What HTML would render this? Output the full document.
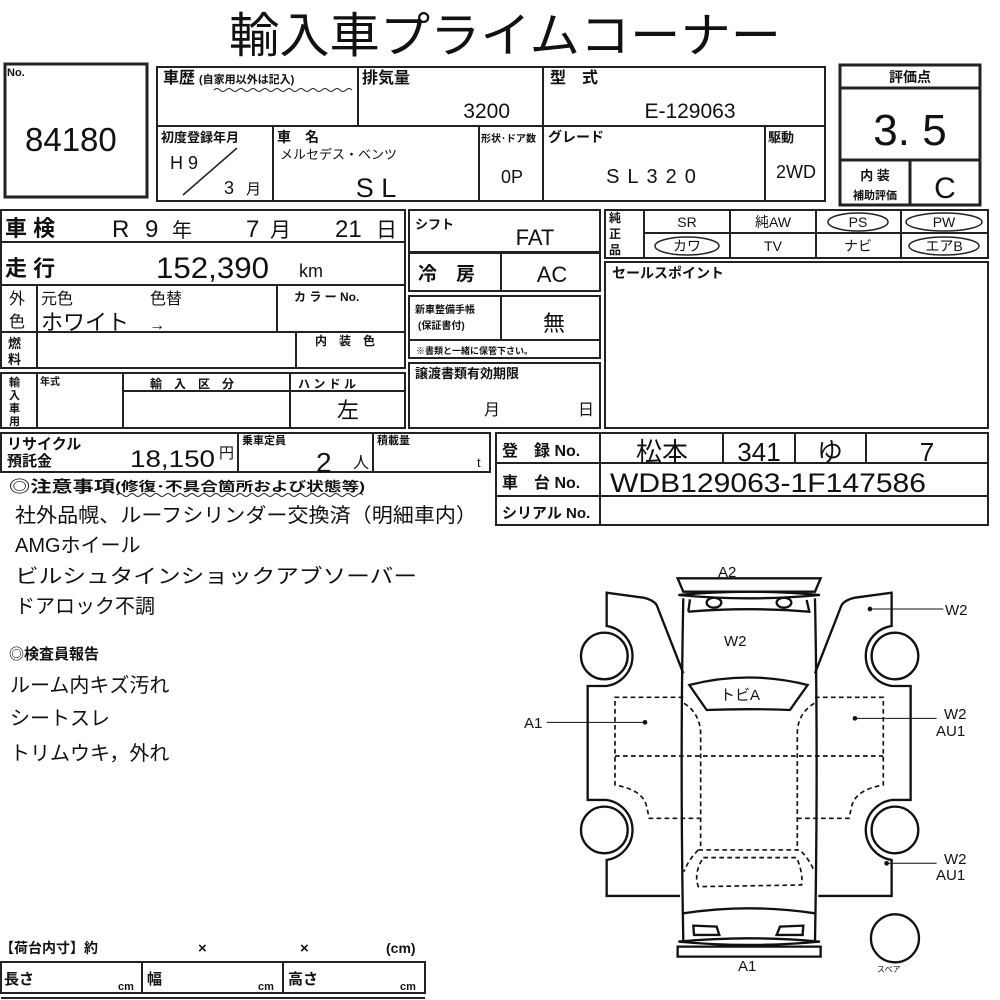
<!DOCTYPE html>
<html><head><meta charset="utf-8"><style>
html,body{margin:0;padding:0;background:#fff;}
svg{display:block;}
text{font-family:"Liberation Sans","Noto Sans CJK JP",sans-serif;fill:#111;}
.b{font-weight:bold;}
</style></head><body>
<svg width="1000" height="1000" viewBox="0 0 1000 1000" xmlns="http://www.w3.org/2000/svg">
<g fill="none" stroke="#222" stroke-width="2">
<rect x="5" y="64" width="142" height="133" stroke-width="3"/>
<rect x="157" y="67" width="668" height="134"/>
<line x1="157" y1="126" x2="825" y2="126"/>
<line x1="358" y1="67" x2="358" y2="126"/>
<line x1="543" y1="67" x2="543" y2="201"/>
<line x1="273" y1="126" x2="273" y2="201"/>
<line x1="479" y1="126" x2="479" y2="201"/>
<line x1="765" y1="126" x2="765" y2="201"/>
<line x1="183" y1="195" x2="237" y2="148" stroke-width="1.5"/>
<rect x="840" y="65" width="140" height="140" stroke-width="3"/>
<line x1="840" y1="88" x2="980" y2="88" stroke-width="3"/>
<line x1="840" y1="160" x2="980" y2="160" stroke-width="3"/>
<line x1="910" y1="160" x2="910" y2="205" stroke-width="3"/>
<rect x="1" y="210" width="404" height="158"/>
<line x1="1" y1="242" x2="405" y2="242"/>
<line x1="1" y1="285" x2="405" y2="285"/>
<line x1="1" y1="332" x2="405" y2="332"/>
<line x1="37" y1="285" x2="37" y2="368"/>
<line x1="277" y1="285" x2="277" y2="332"/>
<line x1="296" y1="332" x2="296" y2="368"/>
<rect x="1" y="373" width="404" height="55"/>
<line x1="37" y1="373" x2="37" y2="428"/>
<line x1="123" y1="373" x2="123" y2="428"/>
<line x1="290" y1="373" x2="290" y2="428"/>
<line x1="123" y1="391" x2="405" y2="391"/>
<rect x="409" y="210" width="191" height="42"/>
<rect x="409" y="253" width="191" height="38"/>
<line x1="501" y1="253" x2="501" y2="291"/>
<rect x="409" y="296" width="191" height="62"/>
<line x1="409" y1="340" x2="600" y2="340"/>
<line x1="501" y1="296" x2="501" y2="340"/>
<rect x="409" y="363" width="191" height="65"/>
<rect x="1" y="433" width="489" height="39"/>
<line x1="238" y1="433" x2="238" y2="472"/>
<line x1="373" y1="433" x2="373" y2="472"/>
<rect x="496" y="433" width="492" height="92"/>
<line x1="496" y1="463" x2="988" y2="463"/>
<line x1="496" y1="496" x2="988" y2="496"/>
<line x1="600" y1="433" x2="600" y2="525"/>
<line x1="723" y1="433" x2="723" y2="463"/>
<line x1="795" y1="433" x2="795" y2="463"/>
<line x1="866" y1="433" x2="866" y2="463"/>
<rect x="605" y="210" width="383" height="48"/>
<line x1="644" y1="233" x2="988" y2="233"/>
<line x1="644" y1="210" x2="644" y2="258"/>
<line x1="730" y1="210" x2="730" y2="258"/>
<line x1="816" y1="210" x2="816" y2="258"/>
<line x1="901" y1="210" x2="901" y2="258"/>
<ellipse cx="858" cy="222" rx="30" ry="9" stroke-width="1.5"/>
<ellipse cx="944" cy="222" rx="38" ry="9" stroke-width="1.5"/>
<ellipse cx="687" cy="246" rx="32" ry="9" stroke-width="1.5"/>
<ellipse cx="944" cy="246" rx="35" ry="9" stroke-width="1.5"/>
<rect x="605" y="262" width="383" height="166"/>
<rect x="1" y="962" width="424" height="31"/>
<line x1="142" y1="962" x2="142" y2="993"/>
<line x1="283" y1="962" x2="283" y2="993"/>
<line x1="1" y1="998" x2="425" y2="998"/>
<path d="M214 90 q3 -3 6 0 t6 0 t6 0 t6 0 t6 0 t6 0 t6 0 t6 0 t6 0 t6 0 t6 0 t6 0 t6 0 t6 0 t6 0 t6 0 t6 0 t6 0 t6 0 t6 0 t6 0 t6 0 t6 0" stroke-width="1"/>
<path d="M117 495 q3 -3 6 0 t6 0 t6 0 t6 0 t6 0 t6 0 t6 0 t6 0 t6 0 t6 0 t6 0 t6 0 t6 0 t6 0 t6 0 t6 0 t6 0 t6 0 t6 0 t6 0 t6 0 t6 0 t6 0 t6 0 t6 0 t6 0 t6 0 t6 0 t6 0 t6 0 t6 0 t6 0 t6 0 t6 0 t6 0 t6 0 t6 0 t6 0 t6 0 t6 0 t6 0" stroke-width="1"/>
</g>

<g transform="translate(510,560) scale(0.3333)" fill="none" stroke="#111" stroke-width="7">
<path d="M503 55 L932 55 L915 95 L520 95 Z"/>
<path d="M505 105 Q717 85 930 105 Q717 125 505 105"/>
<path d="M520 115 Q510 600 520 1145 M915 115 Q925 600 915 1145"/>
<path d="M535 155 Q717 140 898 155 L890 120 M535 155 L540 118"/>
<ellipse cx="612" cy="128" rx="22" ry="15"/>
<ellipse cx="822" cy="128" rx="22" ry="15"/>
<path d="M538 375 Q715 330 893 375 L840 450 Q715 445 590 450 Z"/>
<path d="M520 1060 Q717 1030 915 1060"/>
<path d="M550 1097 L620 1100 L628 1125 L552 1125 Z M880 1097 L810 1100 L800 1125 L878 1125 Z"/>
<path d="M505 1145 Q717 1125 930 1145 Q717 1165 505 1145"/>
<path d="M503 1160 L932 1160 L932 1190 L503 1190 Z"/>
<path d="M520 340 L440 135 Q430 120 400 113 L290 98 L290 198 A91 91 0 0 1 290 378 L233 378 L233 720 L290 720 A91 91 0 0 1 290 900 L290 1008 L510 1008"/>
<path d="M915 340 L995 135 Q1005 120 1035 113 L1145 98 L1145 198 A91 91 0 0 0 1145 378 L1202 378 L1202 720 L1145 720 A91 91 0 0 0 1145 900 L1145 1008 L925 1008"/>
<circle cx="283" cy="288" r="70"/>
<circle cx="283" cy="810" r="70"/>
<circle cx="1155" cy="288" r="70"/>
<circle cx="1155" cy="810" r="70"/>
<circle cx="1155" cy="1135" r="72"/>
<g stroke-width="5" stroke-dasharray="14 10">
<path d="M520 412 L315 412 L315 675 Q400 690 410 740 L418 775 L572 775"/>
<path d="M915 412 L1120 412 L1120 675 Q1035 690 1025 740 L1017 775 L863 775"/>
<path d="M315 588 L1120 588"/>
<path d="M522 430 Q570 460 572 520 L572 870 M913 430 Q863 460 862 520 L862 870"/>
<path d="M565 870 L870 870 Q900 900 913 935 M565 870 Q535 900 522 935"/>
<path d="M580 893 L860 893 Q880 940 875 975 L565 980 Q550 940 580 893"/>
</g>
<g stroke-width="3">
<line x1="110" y1="487" x2="405" y2="487"/>
<line x1="1080" y1="147" x2="1300" y2="147"/>
<line x1="1035" y1="475" x2="1280" y2="475"/>
<line x1="1130" y1="910" x2="1280" y2="910"/>
</g>
<g fill="#111" stroke="none">
<circle cx="405" cy="487" r="7"/><circle cx="1080" cy="147" r="7"/><circle cx="1035" cy="475" r="7"/><circle cx="1130" cy="910" r="7"/>
</g>
</g>
<g font-size="15">
<text x="718" y="577">A2</text>
<text x="724" y="646">W2</text>
<text x="720" y="700">トビA</text>
<text x="524" y="728">A1</text>
<text x="945" y="615">W2</text>
<text x="944" y="719">W2</text><text x="936" y="736">AU1</text>
<text x="944" y="864">W2</text><text x="936" y="880">AU1</text>
<text x="738" y="971">A1</text>
<text x="877" y="972" font-size="8">スペア</text>
</g>

<text x="505" y="52" font-size="48" text-anchor="middle" textLength="552" lengthAdjust="spacingAndGlyphs">輸入車プライムコーナー</text>

<text x="7" y="76" font-size="11" class="b">No.</text>
<text x="25" y="151" font-size="33">84180</text>
<text x="163" y="83" font-size="16" class="b">車歴</text>
<text x="199" y="83" font-size="11" class="b">(自家用以外は記入)</text>
<text x="362" y="83" font-size="16" class="b">排気量</text>
<text x="510" y="118" font-size="21" text-anchor="end">3200</text>
<text x="550" y="83" font-size="16" class="b">型　式</text>
<text x="690" y="118" font-size="21" text-anchor="middle">E-129063</text>
<text x="161" y="142" font-size="13" class="b">初度登録年月</text>
<text x="170" y="169" font-size="18">H 9</text>
<text x="224" y="194" font-size="18">3</text><text x="246" y="194" font-size="15">月</text>
<text x="277" y="142" font-size="14" class="b">車　名</text>
<text x="280" y="159" font-size="13">メルセデス・ベンツ</text>
<text x="376" y="197" font-size="27" text-anchor="middle">S L</text>
<text x="481" y="142" font-size="10" class="b">形状･ドア数</text>
<text x="512" y="183" font-size="18" text-anchor="middle">0P</text>
<text x="548" y="142" font-size="14" class="b">グレード</text>
<text x="655" y="183" font-size="20" text-anchor="middle" letter-spacing="8">SL320</text>
<text x="768" y="142" font-size="13" class="b">駆動</text>
<text x="796" y="178" font-size="18" text-anchor="middle">2WD</text>
<text x="910" y="82" font-size="14" text-anchor="middle" class="b">評価点</text>
<text x="910" y="145" font-size="44" text-anchor="middle">3. 5</text>
<text x="875" y="180" font-size="13" text-anchor="middle" class="b">内 装</text>
<text x="875" y="199" font-size="11" text-anchor="middle" class="b">補助評価</text>
<text x="945" y="198" font-size="30" text-anchor="middle">C</text>

<text x="5" y="236" font-size="22" class="b">車 検</text>
<text x="112" y="237" font-size="24">R</text>
<text x="145" y="237" font-size="24">9</text>
<text x="172" y="237" font-size="20">年</text>
<text x="246" y="237" font-size="24">7</text>
<text x="270" y="237" font-size="21">月</text>
<text x="335" y="237" font-size="24">21</text>
<text x="376" y="237" font-size="21">日</text>
<text x="5" y="276" font-size="22" class="b">走 行</text>
<text x="156" y="278" font-size="30" textLength="113" lengthAdjust="spacingAndGlyphs">152,390</text>
<text x="299" y="277" font-size="18">km</text>
<text x="9" y="304" font-size="16">外</text><text x="9" y="327" font-size="16">色</text>
<text x="41" y="304" font-size="16">元色</text>
<text x="150" y="304" font-size="16">色替</text>
<text x="41" y="330" font-size="22">ホワイト</text>
<text x="149" y="330" font-size="16">→</text>
<text x="294" y="301" font-size="12" class="b">カ ラ ー No.</text>
<text x="8" y="348" font-size="13" class="b">燃</text><text x="8" y="364" font-size="13" class="b">料</text>
<text x="315" y="345" font-size="12" class="b">内　装　色</text>
<text x="9" y="386" font-size="11" class="b">輸</text><text x="9" y="399" font-size="11" class="b">入</text><text x="9" y="412" font-size="11" class="b">車</text><text x="9" y="425" font-size="11" class="b">用</text>
<text x="40" y="385" font-size="10" class="b">年式</text>
<text x="150" y="388" font-size="12" class="b">輸　入　区　分</text>
<text x="298" y="388" font-size="12" class="b">ハ ン ド ル</text>
<text x="348" y="418" font-size="22" text-anchor="middle">左</text>
<text x="415" y="229" font-size="13" class="b">シフト</text>
<text x="535" y="245" font-size="22" text-anchor="middle">FAT</text>
<text x="418" y="280" font-size="19" class="b">冷　房</text>
<text x="552" y="282" font-size="22" text-anchor="middle">AC</text>
<text x="415" y="313" font-size="10" class="b">新車整備手帳</text>
<text x="418" y="329" font-size="10" class="b">(保証書付)</text>
<text x="554" y="331" font-size="22" text-anchor="middle">無</text>
<text x="416" y="354" font-size="9" class="b">※書類と一緒に保管下さい。</text>
<text x="415" y="378" font-size="13" class="b">譲渡書類有効期限</text>
<text x="484" y="415" font-size="16">月</text>
<text x="578" y="415" font-size="16">日</text>
<text x="7" y="449" font-size="15" class="b">リサイクル</text>
<text x="7" y="466" font-size="15" class="b">預託金</text>
<text x="130" y="467" font-size="24" textLength="85" lengthAdjust="spacingAndGlyphs">18,150</text>
<text x="219" y="458" font-size="15">円</text>
<text x="242" y="444" font-size="11" class="b">乗車定員</text>
<text x="316" y="472" font-size="28">2</text>
<text x="353" y="468" font-size="16">人</text>
<text x="377" y="444" font-size="11" class="b">積載量</text>
<text x="477" y="467" font-size="13">t</text>
<text x="502" y="456" font-size="16" class="b">登　録 No.</text>
<text x="502" y="488" font-size="16" class="b">車　台 No.</text>
<text x="502" y="518" font-size="15" class="b">シリアル No.</text>
<text x="662" y="461" font-size="26" text-anchor="middle">松本</text>
<text x="759" y="461" font-size="26" text-anchor="middle">341</text>
<text x="830" y="461" font-size="26" text-anchor="middle">ゆ</text>
<text x="927" y="461" font-size="26" text-anchor="middle">7</text>
<text x="610" y="492" font-size="27" textLength="316" lengthAdjust="spacingAndGlyphs">WDB129063-1F147586</text>
<text x="609" y="222" font-size="12" class="b">純</text><text x="609" y="238" font-size="12" class="b">正</text><text x="609" y="254" font-size="12" class="b">品</text>
<g font-size="14" text-anchor="middle">
<text x="687" y="227">SR</text><text x="773" y="227">純AW</text><text x="858" y="227">PS</text><text x="944" y="227">PW</text>
<text x="687" y="251">カワ</text><text x="773" y="251">TV</text><text x="858" y="251">ナビ</text><text x="944" y="251">エアB</text>
</g>
<text x="612" y="278" font-size="14" class="b">セールスポイント</text>

<text x="9" y="492" font-size="16" class="b" textLength="106" lengthAdjust="spacingAndGlyphs">◎注意事項</text>
<text x="115" y="491" font-size="13" class="b" textLength="250" lengthAdjust="spacingAndGlyphs">(修復･不具合箇所および状態等)</text>
<g font-size="20">
<text x="15" y="522" textLength="462" lengthAdjust="spacingAndGlyphs">社外品幌、ルーフシリンダー交換済（明細車内）</text>
<text x="15" y="552">AMGホイール</text>
<text x="15" y="583" textLength="402" lengthAdjust="spacingAndGlyphs">ビルシュタインショックアブソーバー</text>
<text x="15" y="613">ドアロック不調</text>
<text x="10" y="692">ルーム内キズ汚れ</text>
<text x="10" y="725">シートスレ</text>
<text x="10" y="760">トリムウキ，外れ</text>
</g>
<text x="9" y="659" font-size="15" class="b">◎検査員報告</text>

<text x="0" y="953" font-size="14" class="b">【荷台内寸】約</text>
<text x="198" y="953" font-size="15" class="b">×</text>
<text x="300" y="953" font-size="15" class="b">×</text>
<text x="386" y="953" font-size="14" class="b">(cm)</text>
<text x="4" y="984" font-size="15" class="b">長さ</text><text x="118" y="990" font-size="11" class="b">cm</text>
<text x="147" y="984" font-size="15" class="b">幅</text><text x="258" y="990" font-size="11" class="b">cm</text>
<text x="288" y="984" font-size="15" class="b">高さ</text><text x="400" y="990" font-size="11" class="b">cm</text>
</svg>
</body></html>
